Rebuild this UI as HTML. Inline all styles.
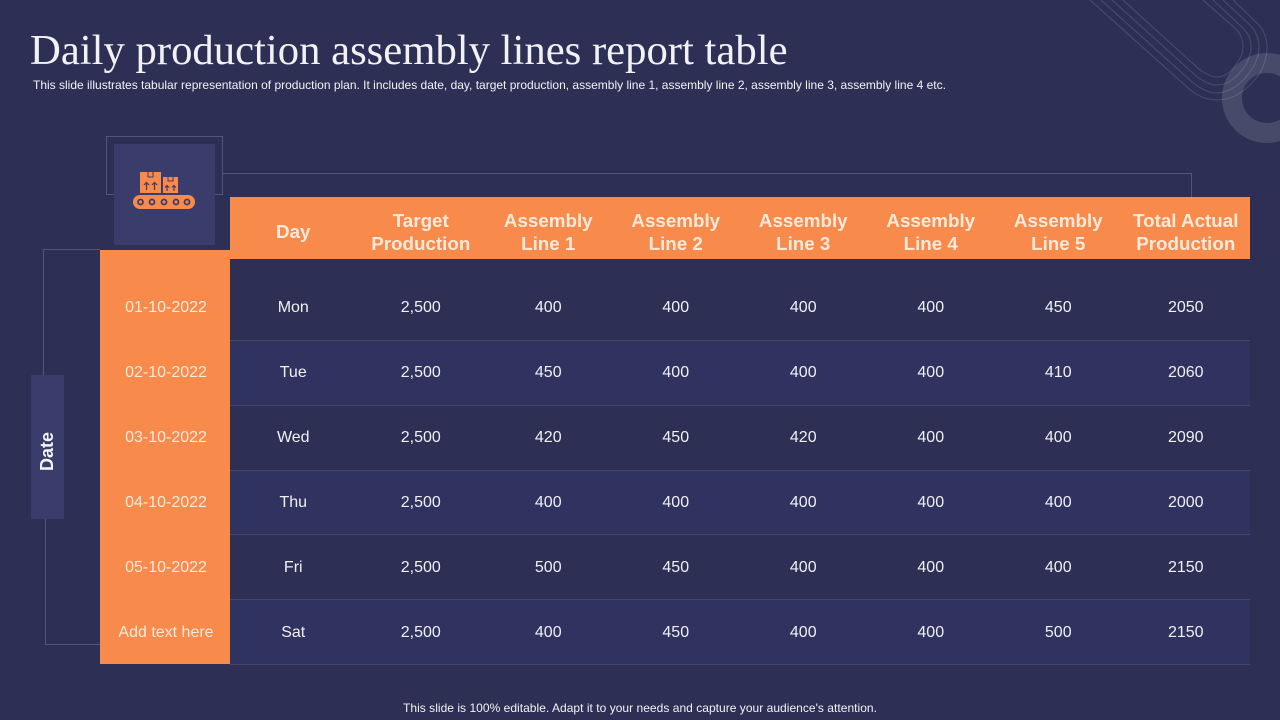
<!DOCTYPE html>
<html lang="en">
<head>
<meta charset="utf-8">
<title>Daily production assembly lines report table</title>
<style>
  html, body { margin: 0; padding: 0; }
  body { width: 1280px; height: 720px; overflow: hidden; background: #2d3054; position: relative; font-family: "Liberation Sans", sans-serif; }
  .abs { position: absolute; }
  #title { left: 30px; top: 26px; font: 42.7px/50px "Liberation Serif", serif; color: #f2f2f6; white-space: nowrap; }
  #subtitle { left: 33px; top: 78px; font-size: 12px; line-height: 14px; color: #f2f2f6; white-space: nowrap; }
  #footer { left: 0; width: 1280px; top: 701px; text-align: center; font-size: 12px; line-height: 14px; letter-spacing: 0.03px; color: #f2f2f6; white-space: nowrap; }
  #table { left: 230px; top: 197px; width: 1020px; border-collapse: collapse; table-layout: fixed; }
  #table th { box-sizing: border-box; width: 127.5px; height: 62px; padding: 0 1px 0 0; background: #f88a4b; color: #fdeadb; font-size: 18.8px; line-height: 23px; font-weight: bold; text-align: center; vertical-align: middle; }
  #table th span { position: relative; top: 4px; display: block; }
  #table th span.single { top: 3px; }
  #table td { padding: 0 1px 0 0; height: 64px; text-align: center; vertical-align: middle; color: #f0f0f6; font-size: 16px; border-bottom: 1px solid #47456a; }
  #table tr.first td { height: 64px; padding-top: 17px; }
  #table tr.short td { height: 63px; }
  #table tr.nudge td { height: 63px; padding-top: 1px; }
  #table tr.alt td { background: #30335f; }
  #date-col { left: 100px; top: 250px; width: 130px; height: 414px; background: #f88a4b; }
  .date { position: absolute; left: 1px; width: 130px; height: 20px; line-height: 20px; margin-top: -9px; text-align: center; font-size: 16px; color: #fdeadb; }
</style>
</head>
<body>

<svg class="abs" style="left:0;top:0" width="1280" height="720">
  <g fill="none" stroke="#4a4c70" stroke-width="1">
    <path d="M1090 0 L1187 87 Q1201 100 1217 100 Q1241 100 1260 73 Q1267 60 1267 47 Q1267 33 1257 23 L1233 0"/>
    <path d="M1101 0 L1191 81 Q1205 93 1217 93 Q1237 92 1252 69 Q1259 58 1259 47 Q1259 35 1250 25 L1223 0"/>
    <path d="M1112 0 L1195 75 Q1207 85 1217 85 Q1232 85 1245 66 Q1251 56 1251 47 Q1251 36 1243 28 L1213 0"/>
    <path d="M1123 0 L1200 70 Q1210 77 1217 77 Q1228 77 1237 63 Q1243 55 1243 47 Q1243 37 1237 30 L1203 0"/>
  </g>
  <circle cx="1267" cy="98" r="35" fill="none" stroke="#ffffff" stroke-opacity="0.13" stroke-width="20"/>
  <g fill="none" stroke="#535679" stroke-width="1">
    <path d="M114 194.5 H106.5 V136.5 H222.5 V194.5 H215"/>
    <path d="M222 173.5 H1191.5 V197"/>
    <path d="M100 249.5 H43.5 V375"/>
    <path d="M100 644.5 H45.5 V519"/>
  </g>
  <rect x="114" y="144" width="101" height="101" fill="#3a3d6c"/>
  <g>
    <rect x="140" y="172" width="21" height="21" fill="#f88a4b"/>
    <rect x="163" y="177" width="15" height="16" fill="#f88a4b"/>
    <path d="M148 172 V177 H153 V172 M168 177 V181 H173 V177" fill="none" stroke="#3a3d6c" stroke-width="1"/>
    <path d="M146.500 190 V183 M144 185 L146.500 182.500 L149 185 M154.500 190 V183 M152 185 L154.500 182.500 L157 185 M167 191 V186 M165 187.500 L167 185.500 L169 187.500 M174 191 V186 M172 187.500 L174 185.500 L176 187.500" fill="none" stroke="#3a3d6c" stroke-width="1.200"/>
    <rect x="133" y="195" width="62" height="14" rx="7" fill="#f88a4b"/>
    <g fill="#f88a4b" stroke="#3a3d6c" stroke-width="1.800">
      <circle cx="140.500" cy="202" r="2.500"/>
      <circle cx="152" cy="202" r="2.500"/>
      <circle cx="164" cy="202" r="2.500"/>
      <circle cx="176" cy="202" r="2.500"/>
      <circle cx="187" cy="202" r="2.500"/>
    </g>
  </g>
  <rect x="31" y="375" width="33" height="144" fill="#3a3d6c"/>
  <text x="0" y="0" transform="translate(53,451.500) rotate(-90)" text-anchor="middle" font-family="Liberation Sans, sans-serif" font-weight="bold" font-size="18" fill="#f4f4f8">Date</text>
</svg>

<div id="title" class="abs">Daily production assembly lines report table</div>
<div id="subtitle" class="abs">This slide illustrates tabular representation of production plan. It includes date, day, target production, assembly line 1, assembly line 2, assembly line 3, assembly line 4 etc.</div>

<div id="date-col" class="abs">
  <div class="date" style="top:57px">01-10-2022</div>
  <div class="date" style="top:122px">02-10-2022</div>
  <div class="date" style="top:187px">03-10-2022</div>
  <div class="date" style="top:252px">04-10-2022</div>
  <div class="date" style="top:317px">05-10-2022</div>
  <div class="date" style="top:382px">Add text here</div>
</div>

<table id="table" class="abs">
  <thead>
    <tr>
      <th><span class="single">Day</span></th>
      <th><span>Target<br>Production</span></th>
      <th><span>Assembly<br>Line 1</span></th>
      <th><span>Assembly<br>Line 2</span></th>
      <th><span>Assembly<br>Line 3</span></th>
      <th><span>Assembly<br>Line 4</span></th>
      <th><span>Assembly<br>Line 5</span></th>
      <th><span>Total Actual<br>Production</span></th>
    </tr>
  </thead>
  <tbody>
    <tr class="first"><td>Mon</td><td>2,500</td><td>400</td><td>400</td><td>400</td><td>400</td><td>450</td><td>2050</td></tr>
    <tr class="alt"><td>Tue</td><td>2,500</td><td>450</td><td>400</td><td>400</td><td>400</td><td>410</td><td>2060</td></tr>
    <tr><td>Wed</td><td>2,500</td><td>420</td><td>450</td><td>420</td><td>400</td><td>400</td><td>2090</td></tr>
    <tr class="alt short"><td>Thu</td><td>2,500</td><td>400</td><td>400</td><td>400</td><td>400</td><td>400</td><td>2000</td></tr>
    <tr class="nudge"><td>Fri</td><td>2,500</td><td>500</td><td>450</td><td>400</td><td>400</td><td>400</td><td>2150</td></tr>
    <tr class="alt nudge"><td>Sat</td><td>2,500</td><td>400</td><td>450</td><td>400</td><td>400</td><td>500</td><td>2150</td></tr>
  </tbody>
</table>

<div id="footer" class="abs">This slide is 100% editable. Adapt it to your needs and capture your audience's attention.</div>

</body>
</html>
